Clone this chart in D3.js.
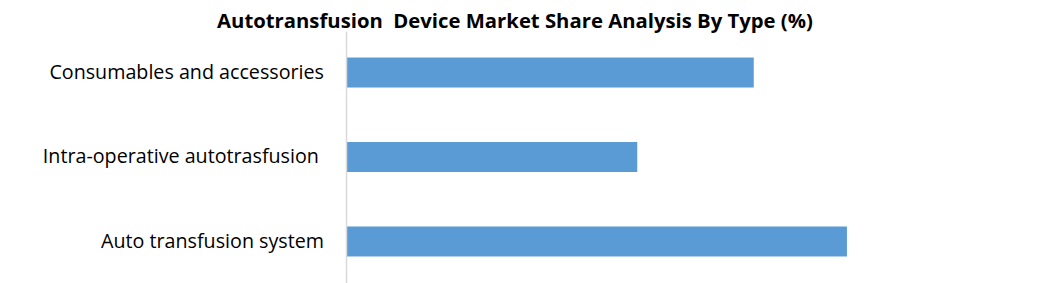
<!DOCTYPE html>
<html>
<head>
<meta charset="utf-8">
<script src="https://cdn.jsdelivr.net/npm/d3@7"></script>
<style>
  html, body { margin:0; padding:0; background:#fff; }
  svg { display:block; }
  text { font-family: "Open Sans", "Liberation Sans", sans-serif; fill:#000; }
</style>
</head>
<body>
<div id="chart"></div>
<script>
  // data
  var categories = ['Consumables and accessories', 'Intra-operative autotrasfusion ', 'Auto transfusion system'],
      shares     = [35, 25, 43],
      title      = 'Autotransfusion  Device Market Share Analysis By Type (%)';

  // shared config
  var width     = 1047,
      height    = 283,
      plotLeft  = 346,
      plotTop   = 31;

  var svg = d3.select('#chart').append('svg')
    .attr('width', width)
    .attr('height', height);

  var x = d3.scaleLinear().domain([0, 50]).range([plotLeft, plotLeft + 582.5]);

  var y = d3.scaleBand()
    .domain(categories)
    .range([plotTop, height])
    .paddingInner(0.645)
    .paddingOuter(0.314);

  var rows = categories.map(function(c, i){ return {name: c, value: shares[i]} });

  // bars
  svg.selectAll('.bar').data(rows)
    .enter().append('rect')
    .attr('class', 'bar')
    .attr('x', x(0) + 1)
    .attr('y', function(d){ return y(d.name) })
    .attr('width', function(d){ return x(d.value) - x(0) - 1 })
    .attr('height', y.bandwidth())
    .attr('fill', '#5b9bd5');

  // category axis
  var yAxis = svg.append('g')
    .attr('transform', 'translate(' + plotLeft + ',0)')
    .call(d3.axisLeft(y).tickSize(0).tickPadding(22));

  yAxis.select('.domain')
    .attr('stroke', '#d9d9d9')
    .attr('stroke-width', 1.5);

  yAxis.selectAll('text')
    .style('font-family', '"Open Sans", sans-serif')
    .style('font-size', '19.7px')
    .style('white-space', 'pre')
    .attr('fill', '#000');

  // title
  svg.append('text')
    .attr('x', 515)
    .attr('y', 28)
    .attr('text-anchor', 'middle')
    .style('font-size', '20.3px')
    .style('font-weight', 'bold')
    .style('white-space', 'pre')
    .text(title);
</script>
</body>
</html>
